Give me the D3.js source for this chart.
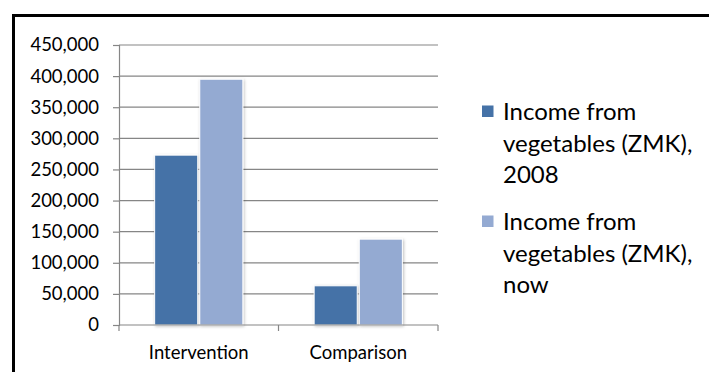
<!DOCTYPE html>
<html>
<head>
<meta charset="utf-8">
<script src="https://cdn.jsdelivr.net/npm/d3@7"></script>
<style>
  html, body { margin: 0; padding: 0; background: #fff; }
  svg { display: block; font-family: Lato, "Open Sans", sans-serif; }
</style>
</head>
<body>
<svg id="chart" width="709" height="372"></svg>
<script>
// Household income from vegetables, by study group
const categories = ["Intervention", "Comparison"];
const seriesNames = ["Income from vegetables (ZMK), 2008", "Income from vegetables (ZMK), now"];
const legendLines = [
  ["Income from", "vegetables (ZMK),", "2008"],
  ["Income from", "vegetables (ZMK),", "now"]
];
const income2008 = [273000, 63000];
const incomeNow = [395000, 138000];
const yTicks = [0, 50000, 100000, 150000, 200000, 250000, 300000, 350000, 400000, 450000];
const colors = ["#4572a7", "#94aad2"];

const svg = d3.select("#chart");

// frame
svg.append("path")
  .attr("d", "M13.5,372 V15.5 H709")
  .attr("fill", "none")
  .attr("stroke", "#000")
  .attr("stroke-width", 3);

const plot = { left: 119, right: 438, top: 45, bottom: 325 };

const y = d3.scaleLinear().domain([0, 450000]).range([plot.bottom, plot.top]);
const x0 = d3.scaleBand().domain(categories).range([plot.left, plot.right]).padding(0);
const x1 = d3.scaleBand().domain(d3.range(seriesNames.length))
  .range([0, x0.bandwidth()]).paddingInner(0.045).paddingOuter(0.79);

// soft shadow round the bars
const defs = svg.append("defs");
const f = defs.append("filter").attr("id", "barShadow")
  .attr("x", "-20%").attr("y", "-20%").attr("width", "140%").attr("height", "140%");
f.append("feDropShadow").attr("dx", 1).attr("dy", 1)
  .attr("stdDeviation", 1.5).attr("flood-color", "#000").attr("flood-opacity", 0.25);

// gridlines
svg.append("g")
  .selectAll("line")
  .data(yTicks.filter(d => d > 0))
  .join("line")
  .attr("x1", plot.left).attr("x2", plot.right)
  .attr("y1", d => y(d)).attr("y2", d => y(d))
  .attr("stroke", "#868686").attr("stroke-width", 1.2);

// y axis
const yAxis = svg.append("g")
  .attr("transform", `translate(${plot.left},0)`)
  .call(d3.axisLeft(y).tickValues(yTicks).tickFormat(d3.format(",")).tickSize(6).tickPadding(14));
yAxis.select(".domain").attr("stroke", "#868686").attr("stroke-width", 1.2);
yAxis.selectAll(".tick line").attr("stroke", "#868686").attr("stroke-width", 1.2);
yAxis.selectAll("text").attr("font-size", 18.5).attr("fill", "#000")
  .attr("font-family", "Lato, 'Open Sans', sans-serif");

// bars
const seriesValues = [income2008, incomeNow];
const groups = svg.append("g")
  .selectAll("g")
  .data(categories)
  .join("g")
  .attr("transform", d => `translate(${x0(d)},0)`);

groups.selectAll("rect")
  .data((c, ci) => seriesValues.map((vals, si) => ({ si, v: vals[ci] })))
  .join("rect")
  .attr("x", d => x1(d.si))
  .attr("width", x1.bandwidth())
  .attr("y", d => y(d.v))
  .attr("height", d => y(0) - y(d.v))
  .attr("fill", d => colors[d.si])
  .attr("stroke", "#fff")
  .attr("stroke-width", 1)
  .attr("filter", "url(#barShadow)");

// x axis
const xAxisG = svg.append("g").attr("transform", `translate(0,${plot.bottom})`);
xAxisG.append("line")
  .attr("x1", plot.left).attr("x2", plot.right)
  .attr("stroke", "#868686").attr("stroke-width", 1.2);
const boundaries = categories.map(c => x0(c)).concat([x0(categories[categories.length - 1]) + x0.bandwidth()]);
xAxisG.selectAll("line.tk")
  .data(boundaries)
  .join("line").attr("class", "tk")
  .attr("x1", d => d).attr("x2", d => d)
  .attr("y1", 0).attr("y2", 6)
  .attr("stroke", "#868686").attr("stroke-width", 1.2);
xAxisG.selectAll("text")
  .data(categories)
  .join("text")
  .attr("x", d => x0(d) + x0.bandwidth() / 2)
  .attr("y", 34)
  .attr("text-anchor", "middle")
  .attr("font-size", 18.5)
  .attr("fill", "#000")
  .text(d => d);

// legend
const legend = svg.append("g").attr("transform", "translate(482,0)");
const entryTop = [120, 230];
const lineGap = 31.5;
const items = legend.selectAll("g")
  .data(seriesNames)
  .join("g")
  .attr("transform", (d, i) => `translate(0,${entryTop[i]})`);
items.append("rect")
  .attr("x", 0).attr("y", -14.5)
  .attr("width", 11.5).attr("height", 11.5)
  .attr("fill", (d, i) => colors[i]);
items.append("text")
  .attr("x", 21)
  .attr("font-size", 24)
  .attr("fill", "#000")
  .selectAll("tspan")
  .data((d, i) => legendLines[i])
  .join("tspan")
  .attr("x", 21)
  .attr("y", (d, k) => k * lineGap)
  .text(d => d);
</script>
</body>
</html>
